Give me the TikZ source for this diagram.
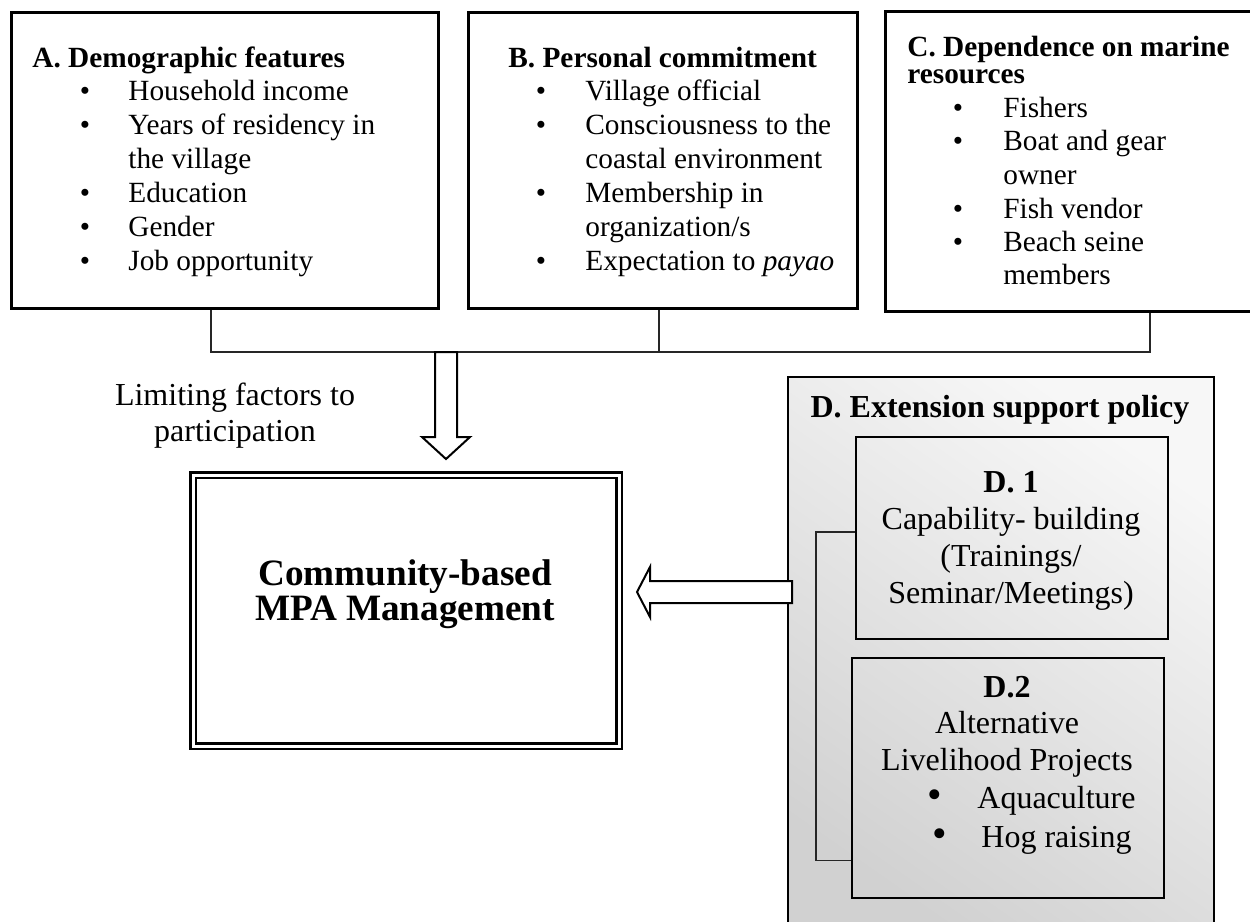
\documentclass[tikz,border=0pt]{standalone}
\usepackage{fontspec}
\setmainfont{Liberation Serif}
\newcommand\ftop{\fontsize{14.65}{17}\selectfont}
\newcommand\fdee{\fontsize{16}{18.5}\selectfont}
\newcommand\fmain{\fontsize{18.6}{17}\selectfont}
\begin{document}
\begin{tikzpicture}[x=0.5pt,y=-0.5pt,
  tbox/.style={draw, line width=1.5pt, inner sep=0pt, anchor=north west},
  ibox/.style={draw, line width=1.2pt, inner sep=0pt, anchor=north west},
  conn/.style={draw=black!85, line width=0.75pt},
  barrow/.style={draw, line width=1pt, fill=white, line join=miter},
  ln/.style={anchor=base west, inner sep=0pt, font=\ftop},
  lnb/.style={anchor=base west, inner sep=0pt, font=\ftop\bfseries},
  bul/.style={anchor=base, inner sep=0pt, font=\ftop},
  dc/.style={anchor=base, inner sep=0pt, font=\fdee},
  dcb/.style={anchor=base, inner sep=0pt, font=\fdee\bfseries},
  dl/.style={anchor=base west, inner sep=0pt, font=\fdee},
  dbul/.style={anchor=base, inner sep=0pt, font=\fdee, scale=1.3}]
\useasboundingbox (0,0) rectangle (1250,922);
\clip (0,0) rectangle (1250,922);
\fill[white] (0,0) rectangle (1250,922);

% ---- top boxes
\node[tbox, minimum width=213.5pt, minimum height=148pt] (A) at (10,11) {};
\node[tbox, minimum width=194.5pt, minimum height=148pt] (B) at (467,11) {};
\node[tbox, minimum width=205pt, minimum height=150pt] (C) at (884,10) {};

% A text
\node[lnb] (a0) at (32,67) {A. Demographic features};
\node[bul] (ab1) at (85,100) {•};
\node[ln] (a1) at (128,100) {Household income};
\node[bul] (ab2) at (85,134) {•};
\node[ln] (a2) at (128,134) {Years of residency in};
\node[ln] (a3) at (128,168) {the village};
\node[bul] (ab4) at (85,202) {•};
\node[ln] (a4) at (128,202) {Education};
\node[bul] (ab5) at (85,236) {•};
\node[ln] (a5) at (128,236) {Gender};
\node[bul] (ab6) at (85,270) {•};
\node[ln] (a6) at (128,270) {Job opportunity};

% B text
\node[lnb] (b0) at (508,67) {B. Personal commitment};
\node[bul] (bb1) at (541,100) {•};
\node[ln] (b1) at (585,100) {Village official};
\node[bul] (bb2) at (541,134) {•};
\node[ln] (b2) at (585,134) {Consciousness to the};
\node[ln] (b3) at (585,168) {coastal environment};
\node[bul] (bb4) at (541,202) {•};
\node[ln] (b4) at (585,202) {Membership in};
\node[ln] (b5) at (585,236) {organization/s};
\node[bul] (bb6) at (541,270) {•};
\node[ln] (b6) at (585,270) {Expectation to \textit{payao}};

% C text
\node[lnb] (c0) at (907,56) {C. Dependence on marine};
\node[lnb] (c0b) at (907,83) {resources};
\node[bul] (cb1) at (958,117) {•};
\node[ln] (c1) at (1003,117) {Fishers};
\node[bul] (cb2) at (958,150) {•};
\node[ln] (c2) at (1003,150) {Boat and gear};
\node[ln] (c3) at (1003,184) {owner};
\node[bul] (cb4) at (958,218) {•};
\node[ln] (c4) at (1003,218) {Fish vendor};
\node[bul] (cb5) at (958,251) {•};
\node[ln] (c5) at (1003,251) {Beach seine};
\node[ln] (c6) at (1003,284) {members};

% ---- joining lines
\coordinate (jl) at (211,352);
\coordinate (jm) at (659,352);
\coordinate (jr) at (1150,352);
\draw[conn] (A.south -| jl) -- (jl) -- (jr) -- (C.south -| jr);
\draw[conn] (B.south -| jm) -- (jm);

% ---- main box
\node[draw, line width=1.25pt, double, double distance=1.5pt, inner sep=0pt,
      anchor=north west, minimum width=213pt, minimum height=135.5pt] (M) at (192,474) {};
\node[anchor=base, inner sep=0pt, font=\fmain\bfseries] (m1) at (405,585) {Community-based};
\node[anchor=base, inner sep=0pt, font=\fmain\bfseries] (m2) at (405,620) {MPA Management};

% down arrow
\draw[barrow] (435,352) -- (435,437) -- (422,437) -- (446,459) -- (470,437)
  -- (457,437) -- (457,352) -- cycle;
\node[dc] (l1) at (235,405) {Limiting factors to};
\node[dc] (l2) at (235,441) {participation};

% ---- D box
\node[draw, line width=1pt, inner sep=0pt, anchor=north west,
      minimum width=213pt, minimum height=280pt,
      top color=black!3, bottom color=black!18, shading angle=-35] (D) at (787,376) {};
\node[dcb] (dt) at (1000,417) {D. Extension support policy};

\node[ibox, minimum width=156pt, minimum height=101pt] (D1) at (855,436) {};
\node[dcb] (d10) at (1011,492) {D. 1};
\node[dc] (d11) at (1011,529) {Capability- building};
\node[dc] (d12) at (1011,566) {(Trainings/};
\node[dc] (d13) at (1011,603) {Seminar/Meetings)};

\node[ibox, minimum width=156pt, minimum height=120pt] (D2) at (851,657) {};
\node[dcb] (d20) at (1007,697) {D.2};
\node[dc] (d21) at (1007,733) {Alternative};
\node[dc] (d22) at (1007,770) {Livelihood Projects};
\node[dbul] (db3) at (935,808) {•};
\node[dl] (d23) at (977,808) {Aquaculture};
\node[dbul] (db4) at (940,847) {•};
\node[dl] (d24) at (981,847) {Hog raising};

\coordinate (bx) at (816,700);
\draw[conn] ([yshift=3pt]D1.west) -| (bx) |- ([yshift=19.5pt]D2.south west);

% left arrow
\draw[barrow] (792,581) -- (650,581) -- (650,567) -- (637,592) -- (650,617)
  -- (650,603) -- (792,603) -- cycle;
\end{tikzpicture}
\end{document}
